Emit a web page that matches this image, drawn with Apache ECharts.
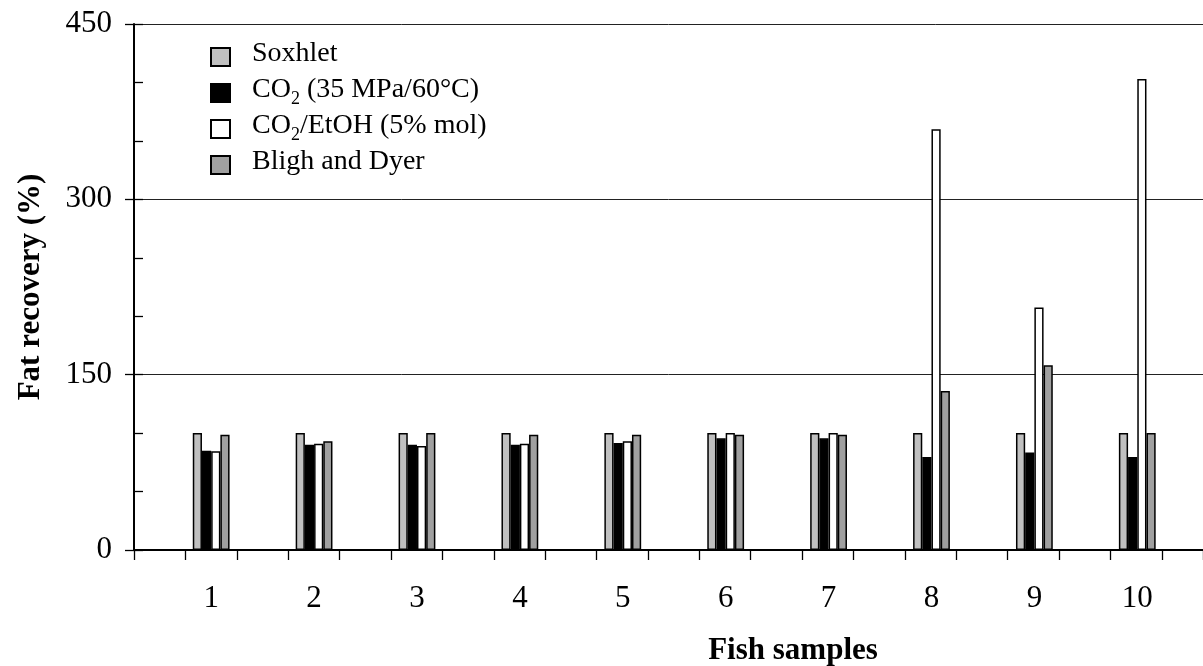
<!DOCTYPE html>
<html>
<head>
<meta charset="utf-8">
<script src="https://cdn.jsdelivr.net/npm/echarts@6/dist/echarts.min.js"></script>
<style>
html,body{margin:0;padding:0;background:#fff;}
#chart{width:1203px;height:666px;}
</style>
</head>
<body>
<div id="chart"></div>
<script>
var categories = ['1','2','3','4','5','6','7','8','9','10'];
var soxhlet = [100,100,100,100,100,100,100,100,100,100];
var co2 = [85,90,90,90,91.5,95.5,95.5,79.5,83.5,79.5];
var co2EtOH = [84.5,91,89,91,93,100,100,360,207.5,403];
var blighDyer = [98.5,93,100,98.5,98.5,98.5,98.5,136,158,100];
var seriesNames = ['Soxhlet','CO2 (35 MPa/60°C)','CO2/EtOH (5% mol)','Bligh and Dyer'];
var yMin = 0, yMax = 450, yMajor = 150, yMinor = 50;

var FONT = '"Liberation Serif","Times New Roman",serif';
var chart = echarts.init(document.getElementById('chart'));

var gTop = 24, gBottom = 116, gLeft = 134, gRight = 0;
var unitPx = 102.9; // px per category
var g2Left = gLeft + 0.25 * unitPx;
var g2Right = 1203 - (gLeft + 10.25 * unitPx);

function bar(name, data, color) {
  return {
    name: name, type: 'bar', xAxisIndex: 2, yAxisIndex: 2,
    data: data, barWidth: 9.2, barGap: '0%',
    itemStyle: {color: color, borderColor: '#000', borderWidth: 1.5},
    emphasis: {disabled: true}, animation: false
  };
}

var legendFmt = function (name) {
  if (name.indexOf('CO2') === 0) {
    return '{n|CO}{s|2}{n|' + name.slice(3) + '}';
  }
  return '{n|' + name + '}';
};

chart.setOption({
  animation: false,
  backgroundColor: '#fff',
  grid: [
    {left: gLeft, right: gRight, top: gTop, bottom: gBottom},
    {left: g2Left, right: g2Right, top: gTop, bottom: gBottom}
  ],
  legend: {
    orient: 'vertical', left: 205, top: 35,
    itemWidth: 19, itemHeight: 18, itemGap: 4,
    icon: 'rect',
    data: seriesNames,
    formatter: legendFmt,
    textStyle: {
      fontFamily: FONT, fontSize: 28, color: '#000',
      padding: [0, 0, 0, 17],
      rich: {
        n: {fontFamily: FONT, fontSize: 28, color: '#000', lineHeight: 30, verticalAlign: 'bottom', padding: [0,0,4,0]},
        s: {fontFamily: FONT, fontSize: 18, color: '#000', lineHeight: 20, verticalAlign: 'bottom'}
      }
    }
  },
  xAxis: [
    {
      type: 'value', gridIndex: 0, min: 0.25, max: 10.65, interval: 0.5,
      axisLine: {show: true, lineStyle: {color: '#000', width: 2}},
      axisTick: {show: true, inside: false, length: 10, lineStyle: {color: '#000', width: 1.3}},
      axisLabel: {show: false}, splitLine: {show: false}
    },
    {
      type: 'value', gridIndex: 0, position: 'top', min: 0.25, max: 10.65,
      axisLine: {show: true, lineStyle: {color: '#000', width: 2}},
      axisTick: {show: false}, axisLabel: {show: false}, splitLine: {show: false}
    },
    {
      type: 'category', gridIndex: 1, data: categories,
      axisLine: {show: false}, axisTick: {show: false}, splitLine: {show: false},
      axisLabel: {show: true, fontFamily: FONT, fontSize: 31, color: '#000', margin: 33}
    }
  ],
  yAxis: [
    {
      type: 'value', gridIndex: 0, min: yMin, max: yMax, interval: yMajor,
      axisLine: {show: true, lineStyle: {color: '#000', width: 2}},
      axisTick: {show: true, inside: false, length: 9, lineStyle: {color: '#000', width: 1.3}},
      axisLabel: {show: true, fontFamily: FONT, fontSize: 31, color: '#000', margin: 22},
      splitLine: {show: true, lineStyle: {color: '#222', width: 1}},
      name: 'Fat recovery (%)', nameLocation: 'middle', nameGap: 88,
      nameTextStyle: {fontFamily: FONT, fontSize: 31, fontWeight: 'bold', color: '#000'}
    },
    {
      type: 'value', gridIndex: 0, position: 'left', min: yMin, max: yMax, interval: yMinor,
      axisLine: {show: false},
      axisTick: {show: true, inside: true, length: 9, lineStyle: {color: '#000', width: 1.3}},
      axisLabel: {show: false}, splitLine: {show: false}
    },
    {
      type: 'value', gridIndex: 1, min: yMin, max: yMax, show: false,
      splitLine: {show: false}
    }
  ],
  graphic: [
    {type: 'text', x: 793, y: 651,
     style: {text: 'Fish samples', font: 'bold 31px ' + FONT, fill: '#000', textAlign: 'center', textVerticalAlign: 'middle'}}
  ],
  series: [
    bar(seriesNames[0], soxhlet, '#c0c0c0'),
    bar(seriesNames[1], co2, '#000000'),
    bar(seriesNames[2], co2EtOH, '#ffffff'),
    bar(seriesNames[3], blighDyer, '#a0a0a0')
  ]
});
</script>
</body>
</html>
